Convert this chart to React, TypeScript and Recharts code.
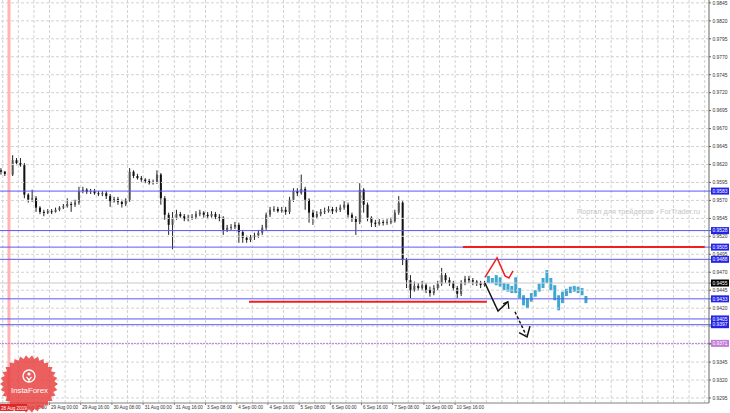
import React from 'react';
import { ComposedChart, Bar, Line, XAxis, YAxis, ReferenceLine } from 'recharts';

// ---- Data ----
const firstOpen = 0.9612;
const closes = [
  0.9610, 0.9607, 0.9606, 0.9626, 0.9622, 0.9619, 0.9578, 0.9571, 0.9573, 0.9560,
  0.9554, 0.9553, 0.9555, 0.9554, 0.9557, 0.9560, 0.9562, 0.9565, 0.9564, 0.9567,
  0.9583, 0.9585, 0.9582, 0.9583, 0.9580, 0.9579, 0.9580, 0.9576, 0.9569, 0.9572,
  0.9568, 0.9565, 0.9571, 0.9610, 0.9604, 0.9601, 0.9599, 0.9597, 0.9594, 0.9596,
  0.9606, 0.9573, 0.9550, 0.9536, 0.9546, 0.9551, 0.9548, 0.9544, 0.9546, 0.9547,
  0.9551, 0.9553, 0.9550, 0.9548, 0.9551, 0.9547, 0.9546, 0.9529, 0.9532, 0.9533,
  0.9536, 0.9526, 0.9518, 0.9515, 0.9519, 0.9521, 0.9525, 0.9532, 0.9550, 0.9557,
  0.9558, 0.9555, 0.9557, 0.9554, 0.9571, 0.9583, 0.9580, 0.9586, 0.9571, 0.9553,
  0.9547, 0.9551, 0.9554, 0.9555, 0.9558, 0.9555, 0.9557, 0.9560, 0.9564, 0.9550,
  0.9544, 0.9540, 0.9585, 0.9564, 0.9546, 0.9539, 0.9537, 0.9540, 0.9539, 0.9540,
  0.9541, 0.9553, 0.9567, 0.9487, 0.9459, 0.9445, 0.9451, 0.9448, 0.9452, 0.9445,
  0.9441, 0.9448, 0.9454, 0.9466, 0.9459, 0.9455, 0.9448, 0.9440, 0.9455, 0.9461,
  0.9459, 0.9457, 0.9455, 0.9452, 0.9454,
];
const highs = [
  0.9615, 0.9611, 0.9610, 0.9633, 0.9629, 0.9629, 0.9622, 0.9580, 0.9585, 0.9576,
  0.9562, 0.9557, 0.9558, 0.9558, 0.9560, 0.9562, 0.9565, 0.9573, 0.9568, 0.9571,
  0.9589, 0.9589, 0.9587, 0.9586, 0.9586, 0.9583, 0.9583, 0.9583, 0.9579, 0.9575,
  0.9575, 0.9571, 0.9573, 0.9615, 0.9612, 0.9607, 0.9604, 0.9601, 0.9600, 0.9599,
  0.9612, 0.9608, 0.9576, 0.9553, 0.9554, 0.9557, 0.9554, 0.9551, 0.9550, 0.9551,
  0.9555, 0.9557, 0.9555, 0.9554, 0.9555, 0.9554, 0.9551, 0.9548, 0.9536, 0.9537,
  0.9540, 0.9539, 0.9529, 0.9521, 0.9522, 0.9525, 0.9529, 0.9536, 0.9553, 0.9561,
  0.9562, 0.9561, 0.9561, 0.9561, 0.9575, 0.9587, 0.9587, 0.9606, 0.9589, 0.9573,
  0.9557, 0.9555, 0.9558, 0.9560, 0.9562, 0.9561, 0.9561, 0.9564, 0.9569, 0.9567,
  0.9553, 0.9548, 0.9594, 0.9587, 0.9567, 0.9548, 0.9543, 0.9544, 0.9543, 0.9544,
  0.9546, 0.9557, 0.9576, 0.9569, 0.9490, 0.9466, 0.9457, 0.9455, 0.9458, 0.9455,
  0.9450, 0.9452, 0.9458, 0.9476, 0.9469, 0.9463, 0.9458, 0.9451, 0.9459, 0.9465,
  0.9465, 0.9462, 0.9459, 0.9458, 0.9458,
];
const lows = [
  0.9606, 0.9604, 0.9601, 0.9604, 0.9619, 0.9617, 0.9573, 0.9567, 0.9568, 0.9554,
  0.9551, 0.9548, 0.9551, 0.9551, 0.9553, 0.9555, 0.9558, 0.9560, 0.9554, 0.9561,
  0.9564, 0.9580, 0.9579, 0.9579, 0.9578, 0.9576, 0.9576, 0.9572, 0.9561, 0.9567,
  0.9564, 0.9560, 0.9562, 0.9568, 0.9601, 0.9599, 0.9596, 0.9594, 0.9592, 0.9592,
  0.9593, 0.9564, 0.9543, 0.9522, 0.9502, 0.9543, 0.9546, 0.9541, 0.9541, 0.9543,
  0.9544, 0.9548, 0.9546, 0.9544, 0.9546, 0.9544, 0.9541, 0.9522, 0.9526, 0.9529,
  0.9530, 0.9511, 0.9511, 0.9511, 0.9512, 0.9515, 0.9518, 0.9522, 0.9529, 0.9547,
  0.9554, 0.9553, 0.9553, 0.9550, 0.9551, 0.9568, 0.9576, 0.9578, 0.9557, 0.9539,
  0.9536, 0.9544, 0.9548, 0.9551, 0.9553, 0.9551, 0.9553, 0.9554, 0.9557, 0.9546,
  0.9540, 0.9522, 0.9537, 0.9553, 0.9541, 0.9533, 0.9533, 0.9535, 0.9535, 0.9536,
  0.9537, 0.9539, 0.9550, 0.9480, 0.9448, 0.9434, 0.9443, 0.9444, 0.9445, 0.9441,
  0.9436, 0.9438, 0.9445, 0.9451, 0.9455, 0.9451, 0.9444, 0.9434, 0.9437, 0.9452,
  0.9455, 0.9452, 0.9451, 0.9448, 0.9450,
];
const forecastHighs = [
  0.9465, 0.9462, 0.9466, 0.9463, 0.9455, 0.9454, 0.9451, 0.9463, 0.9448, 0.9438,
  0.9434, 0.9441, 0.9445, 0.9454, 0.9462, 0.9473, 0.9462, 0.9452, 0.9438, 0.9443,
  0.9447, 0.9450, 0.9451, 0.9450, 0.9448, 0.9437,
];
const forecastLows = [
  0.9455, 0.9455, 0.9452, 0.9450, 0.9445, 0.9443, 0.9441, 0.9441, 0.9434, 0.9424,
  0.9420, 0.9429, 0.9436, 0.9443, 0.9448, 0.9455, 0.9445, 0.9431, 0.9417, 0.9427,
  0.9437, 0.9441, 0.9443, 0.9441, 0.9438, 0.9427,
];

const yTicks = [
  0.9845, 0.982, 0.9795, 0.977, 0.9745, 0.972, 0.9695, 0.967, 0.9645, 0.962,
  0.9595, 0.957, 0.9545, 0.952, 0.9495, 0.947, 0.9445, 0.942, 0.9395, 0.937,
  0.9345, 0.932, 0.9295,
];
const blueLevels = [0.9583, 0.9528, 0.9505, 0.9488, 0.9433, 0.9405, 0.9397];
const currentPrice = 0.9455;
const purpleLevel = 0.9371;

const xTicks = [8, 24, 40, 56, 72, 88, 104, 120, 136, 152, 168, 184, 200, 216, 232];
const xTickLabels = [
  '28 Aug 08:00', '29 Aug 00:00', '29 Aug 16:00', '30 Aug 08:00', '31 Aug 00:00',
  '31 Aug 16:00', '3 Sep 08:00', '4 Sep 00:00', '4 Sep 16:00', '5 Sep 08:00',
  '6 Sep 00:00', '6 Sep 16:00', '7 Sep 08:00', '10 Sep 00:00', '10 Sep 16:00',
];
const gridTimes = [0, 8, 16, 24, 32, 40, 48, 56, 64, 72, 80, 88, 96, 104, 112, 120, 128, 136, 144, 152, 160, 168, 176, 184, 192, 200, 208, 216, 224, 232, 240, 248, 256, 264, 272, 280, 288, 296, 304, 312, 320, 328, 336, 344, 352, 360];

const redSegments = [
  { from: 236, to: 360, price: 0.9505 },
  { from: 126.3, to: 248.3, price: 0.9429 },
];
const markerTime = 3.2;

const redZig = [
  { t: 247.3, p: 0.9463 }, { t: 253.5, p: 0.9490 }, { t: 257.6, p: 0.9465 },
  { t: 259.6, p: 0.9462 }, { t: 261.7, p: 0.9472 },
];
const blackZig = [
  { t: 247.3, p: 0.9455 }, { t: 254.0, p: 0.9416 }, { t: 259.1, p: 0.9429 },
];
const blackArrow = [
  { t: 256.6, p: 0.9426 }, { t: 259.1, p: 0.9429 }, { t: 259.6, p: 0.9419 },
];
const blackDashed = [
  { t: 262.7, p: 0.9415 }, { t: 268.3, p: 0.9383 },
];
const blackHook = [
  { t: 264.8, p: 0.9386 }, { t: 268.9, p: 0.9380 }, { t: 270.4, p: 0.9395 },
];

// ---- Build chart rows ----
const rows = [
  ...closes.map((c, i) => ({
    t: 2 * i - 0.9,
    kind: 'c',
    open: i === 0 ? firstOpen : closes[i - 1],
    close: c,
    high: highs[i],
    low: lows[i],
    range: [lows[i], highs[i]],
  })),
  ...forecastHighs.map((h, j) => ({
    t: 2 * (closes.length + j) - 0.9,
    kind: 'f',
    high: h,
    low: forecastLows[j],
    range: [forecastLows[j], h],
  })),
];

const FONT = 'Liberation Sans, Arial, sans-serif';

const CandleShape = (props: any) => {
  const { x, y, width, height, payload } = props;
  if (!payload || x == null) return null;
  const top = Math.min(y, y + height);
  const h = Math.abs(height);
  const cx = x + width / 2;
  if (payload.kind === 'f') {
    return <rect x={cx - 1.5} y={top} width={3} height={Math.max(h, 1)} fill="#3fa8d2" />;
  }
  const k = h / (payload.high - payload.low);
  const bodyTop = top + (payload.high - Math.max(payload.open, payload.close)) * k;
  const bodyH = Math.max(1, Math.abs(payload.open - payload.close) * k);
  const bull = payload.close >= payload.open;
  return (
    <g>
      <line x1={cx} x2={cx} y1={top} y2={top + h} stroke="#222" strokeWidth={1} />
      <rect x={cx - 1} y={bodyTop} width={2} height={bodyH} fill={bull ? '#555' : '#111'} />
    </g>
  );
};

const levelColor = (v: number) => {
  if (Math.abs(v - currentPrice) < 1e-6) return '#000000';
  if (Math.abs(v - purpleLevel) < 1e-6) return '#c27ad6';
  if (blueLevels.some((b) => Math.abs(b - v) < 1e-6)) return '#2424e6';
  return null;
};

const YTick = (props: any) => {
  const { x, y, payload } = props;
  const v = payload.value;
  const bg = levelColor(v);
  const label = v.toFixed(4);
  if (bg) {
    return (
      <g>
        <rect x={x - 1} y={y - 3.5} width={18} height={7} fill={bg} />
        <text x={x + 0.5} y={y + 1.8} fontSize={4.9} fill="#fff" fontFamily={FONT}>{label}</text>
      </g>
    );
  }
  return (
    <text x={x + 0.5} y={y + 1.8} fontSize={4.9} fill="#333" fontFamily={FONT}>{label}</text>
  );
};

const XTick = (props: any) => {
  const { x, y, payload } = props;
  const idx = xTicks.indexOf(payload.value);
  const label = idx >= 0 ? xTickLabels[idx] : '';
  return (
    <text x={x + 1.5} y={y + 4} fontSize={4.6} fill="#333" fontFamily={FONT}>{label}</text>
  );
};

const allYTicks = [...yTicks, currentPrice, purpleLevel, ...blueLevels];

const starPoints = (() => {
  const pts: string[] = [];
  const n = 30;
  const cx = 29, cy = 384, R = 29, r = 25.5;
  for (let i = 0; i < n * 2; i++) {
    const a = (Math.PI * i) / n;
    const rad = i % 2 === 0 ? R : r;
    pts.push(`${(cx + rad * Math.cos(a)).toFixed(2)},${(cy + rad * Math.sin(a)).toFixed(2)}`);
  }
  return pts.join(' ');
})();

export default function App() {
  return (
    <div style={{ position: 'absolute', left: 0, top: 0, width: 730, height: 413, background: '#fff' }}>
      <ComposedChart width={730} height={413} data={rows} margin={{ top: 0, right: 0, bottom: 0, left: 0 }}>
        {yTicks.map((v) => (
          <ReferenceLine key={'h' + v} y={v} stroke="#d2d2d2" strokeDasharray="3 2" ifOverflow="hidden" />
        ))}
        {gridTimes.map((g) => (
          <ReferenceLine key={'g' + g} x={g} stroke="#d2d2d2" strokeDasharray="3 2" ifOverflow="hidden" />
        ))}
        <XAxis
          type="number"
          dataKey="t"
          domain={[-1.4, 362.2]}
          allowDataOverflow
          ticks={xTicks}
          interval={0}
          height={10}
          tickSize={2}
          tickMargin={0}
          tick={<XTick />}
          axisLine={{ stroke: '#808080' }}
          tickLine={{ stroke: '#808080' }}
        />
        <YAxis
          orientation="right"
          type="number"
          domain={[0.9288, 0.9849]}
          allowDataOverflow
          ticks={allYTicks}
          interval={0}
          width={21}
          tickSize={2}
          tickMargin={1}
          tick={<YTick />}
          axisLine={{ stroke: '#666' }}
          tickLine={{ stroke: '#666' }}
        />
        <ReferenceLine x={markerTime} stroke="#ffb3b3" strokeWidth={3} />
        {blueLevels.map((v) => (
          <ReferenceLine key={'b' + v} y={v} stroke="#5a5af5" strokeWidth={1} />
        ))}
        <ReferenceLine y={currentPrice} stroke="#c8c8c8" strokeWidth={1} />
        <ReferenceLine y={purpleLevel} stroke="#c27ad6" strokeWidth={1} strokeDasharray="2 1" />
        {redSegments.map((s, i) => (
          <ReferenceLine
            key={'r' + i}
            segment={[{ x: s.from, y: s.price }, { x: s.to, y: s.price }]}
            stroke="#f02020"
            strokeWidth={2}
          />
        ))}
        <Bar dataKey="range" barSize={3} shape={CandleShape} isAnimationActive={false} />
        <Line data={redZig} dataKey="p" stroke="#f02020" strokeWidth={1.5} dot={false} activeDot={false} isAnimationActive={false} />
        <Line data={blackZig} dataKey="p" stroke="#111" strokeWidth={1.5} dot={false} activeDot={false} isAnimationActive={false} />
        <Line data={blackArrow} dataKey="p" stroke="#111" strokeWidth={1.2} dot={false} activeDot={false} isAnimationActive={false} />
        <Line data={blackDashed} dataKey="p" stroke="#111" strokeWidth={1.5} strokeDasharray="3 2" dot={false} activeDot={false} isAnimationActive={false} />
        <Line data={blackHook} dataKey="p" stroke="#111" strokeWidth={1.5} dot={false} activeDot={false} isAnimationActive={false} />
      </ComposedChart>
      <svg width={730} height={413} style={{ position: 'absolute', left: 0, top: 0, pointerEvents: 'none' }}>
        <text x={577} y={214} fontSize={8} fill="#c4c4c4" fontFamily={FONT} textLength={123} lengthAdjust="spacingAndGlyphs">
          Портал для трейдеров - ForTrader.ru
        </text>
        <polygon points={starPoints} fill="#e63c3c" fillOpacity={0.82} />
        <rect x={0} y={404} width={27} height={7} fill="#e02828" />
        <text x={1} y={409.5} fontSize={4.6} fill="#fff" fontFamily={FONT}>28 Aug 2019</text>
        <circle cx={29} cy={376} r={6} fill="none" stroke="#fff" strokeWidth={1.3} />
        <circle cx={29} cy={374} r={1.6} fill="#fff" />
        <path d="M26.5 377 L29 380 L31.5 377 M29 380 L29 382" stroke="#fff" strokeWidth={1.2} fill="none" />
        <text x={11} y={393} fontSize={7.5} fill="#fff" fontFamily={FONT} textLength={37} lengthAdjust="spacingAndGlyphs">InstaForex</text>
      </svg>
    </div>
  );
}
